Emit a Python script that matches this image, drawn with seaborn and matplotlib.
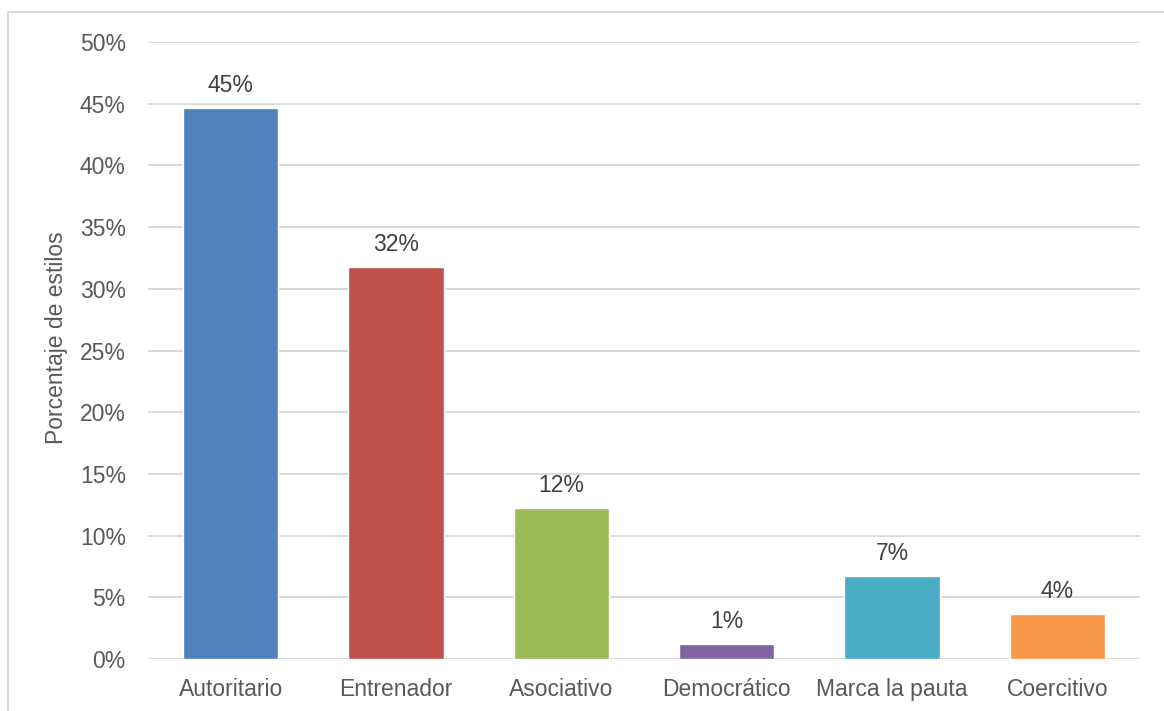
import numpy as np
import pandas as pd
import seaborn as sns
import matplotlib.pyplot as plt
from matplotlib.lines import Line2D
from matplotlib.ticker import PercentFormatter

# Datos
estilos = ['Autoritario', 'Entrenador', 'Asociativo', 'Democrático', 'Marca la pauta', 'Coercitivo']
porcentajes = [0.4465, 0.3177, 0.1224, 0.0120, 0.0672, 0.0365]
etiquetas = ['45%', '32%', '12%', '1%', '7%', '4%']
colores = ['#4F81BD', '#C0504D', '#9BBB59', '#8064A2', '#4BACC6', '#F79646']

sns.set_theme(style='white')
plt.rcParams['font.family'] = ['Liberation Sans', 'DejaVu Sans']

texto = '#595959'
grid = '#D9D9D9'
fs = 16.5

df = pd.DataFrame({'estilo': estilos, 'pct': porcentajes})

fig = plt.figure(figsize=(11.64, 7.11), dpi=100)
ax = fig.add_axes([148 / 1164, 1 - 659 / 711, (1140 - 148) / 1164, (659 - 42) / 711])

sns.barplot(data=df, x='estilo', y='pct', hue='estilo', palette=colores,
            legend=False, width=0.575, saturation=1, ax=ax, zorder=3)

ax.set_ylim(0, 0.5)
ax.set_xlim(-0.5, len(estilos) - 0.5)
ax.set_yticks(np.arange(0, 0.51, 0.05))
ax.yaxis.set_major_formatter(PercentFormatter(1.0, decimals=0))
ax.grid(axis='y', color=grid, linewidth=1.4, zorder=0)
ax.set_axisbelow(True)
for s in ['top', 'right', 'left', 'bottom']:
    ax.spines[s].set_visible(False)

ax.tick_params(axis='both', length=0, labelsize=fs, labelcolor=texto)
ax.tick_params(axis='y', pad=16)
ax.tick_params(axis='x', pad=14)
ax.set_xlabel('')
ax.set_ylabel('Porcentaje de estilos', fontsize=fs, color=texto)
ax.yaxis.set_label_coords(-0.081, 0.52)

for i, (v, t) in enumerate(zip(porcentajes, etiquetas)):
    ax.annotate(t, (i, v), xytext=(0, 8), textcoords='offset points',
                ha='center', va='bottom', fontsize=fs, color='#404040')

# marco del area del grafico (solo borde superior e izquierdo visibles)
x0 = 7.5 / 1164
y0 = 1 - 11.5 / 711
fig.add_artist(Line2D([x0, 1.0], [y0, y0], transform=fig.transFigure, color=grid, lw=1.5))
fig.add_artist(Line2D([x0, x0], [0.0, y0], transform=fig.transFigure, color=grid, lw=1.5))

fig.savefig('out.png', dpi=100)
